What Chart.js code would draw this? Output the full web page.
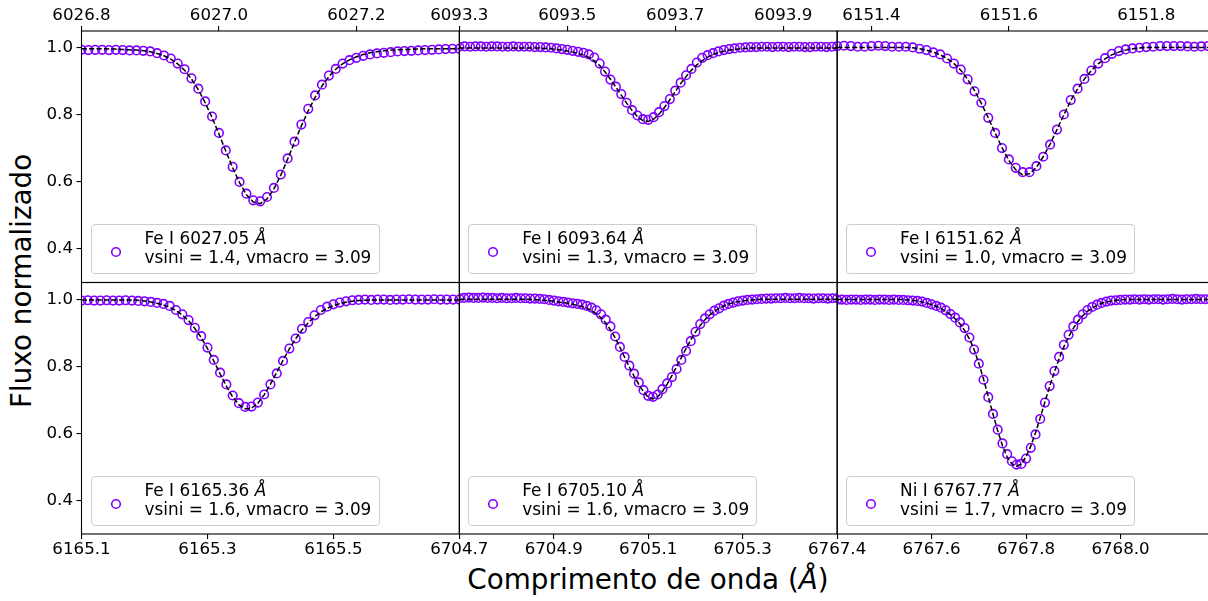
<!DOCTYPE html>
<html><head><meta charset="utf-8">
<script src="https://cdn.jsdelivr.net/npm/chart.js@4.4.0/dist/chart.umd.min.js"></script>
<style>
html,body{margin:0;padding:0;background:#fff;overflow:hidden;width:1208px;height:601px;}
#wrap{position:relative;width:1208px;height:601px;overflow:hidden;background:#fff;font-family:'DejaVu Sans',sans-serif;color:#000;}
canvas.p{position:absolute;left:0;top:0;}
.leg{position:absolute;box-sizing:border-box;width:289px;height:50px;border:1px solid #cccccc;border-radius:4px;background:rgba(255,255,255,0.8);}
.leg svg{position:absolute;left:16px;top:19px;}
.leg .t{position:absolute;left:53px;top:4px;font-size:16.9px;line-height:19.4px;white-space:nowrap;}
#xt{position:absolute;left:348px;width:600px;top:566px;text-align:center;font-size:27.8px;line-height:27.8px;white-space:nowrap;}
#yt{position:absolute;left:-178px;top:267px;width:400px;height:27.8px;text-align:center;font-size:27.8px;line-height:27.8px;white-space:nowrap;transform:rotate(-90deg);}
</style>
</head><body>
<div id="wrap">
<div id="xt">Comprimento de onda (<i>Å</i>)</div>
<div id="yt">Fluxo normalizado</div>
</div>
<script>
// ---------------- data ----------------
const wl1 = [6026.80,6026.81,6026.82,6026.83,6026.84,6026.85,6026.86,6026.87,6026.88,6026.89,
6026.90,6026.91,6026.92,6026.93,6026.94,6026.95,6026.96,6026.97,6026.98,6026.99,
6027.00,6027.01,6027.02,6027.03,6027.04,6027.05,6027.06,6027.07,6027.08,6027.09,
6027.10,6027.11,6027.12,6027.13,6027.14,6027.15,6027.16,6027.17,6027.18,6027.19,
6027.20,6027.21,6027.22,6027.23,6027.24,6027.25,6027.26,6027.27,6027.28,6027.29,
6027.30,6027.31,6027.32,6027.33,6027.34,6027.35];
const obs1 = [0.994,0.993,0.994,0.994,0.993,0.994,0.993,0.992,0.992,0.991,
0.989,0.984,0.977,0.968,0.953,0.936,0.909,0.878,0.840,0.795,
0.746,0.694,0.645,0.600,0.565,0.545,0.542,0.555,0.582,0.622,
0.670,0.720,0.771,0.818,0.858,0.890,0.917,0.937,0.953,0.963,
0.970,0.976,0.980,0.983,0.985,0.987,0.989,0.990,0.991,0.992,
0.993,0.994,0.995,0.996,0.997,0.997];
const fit1 = [0.997,0.997,0.997,0.997,0.996,0.996,0.995,0.994,0.993,0.991,
0.988,0.983,0.976,0.966,0.952,0.933,0.907,0.875,0.836,0.792,
0.743,0.692,0.642,0.598,0.562,0.540,0.535,0.549,0.579,0.620,
0.668,0.718,0.767,0.812,0.852,0.886,0.914,0.936,0.952,0.964,
0.973,0.980,0.985,0.988,0.991,0.993,0.994,0.995,0.996,0.996,
0.997,0.997,0.997,0.997,0.997,0.997];

const wl2 = [6093.30,6093.31,6093.32,6093.33,6093.34,6093.35,6093.36,6093.37,6093.38,6093.39,
6093.40,6093.41,6093.42,6093.43,6093.44,6093.45,6093.46,6093.47,6093.48,6093.49,
6093.50,6093.51,6093.52,6093.53,6093.54,6093.55,6093.56,6093.57,6093.58,6093.59,
6093.60,6093.61,6093.62,6093.63,6093.64,6093.65,6093.66,6093.67,6093.68,6093.69,
6093.70,6093.71,6093.72,6093.73,6093.74,6093.75,6093.76,6093.77,6093.78,6093.79,
6093.80,6093.81,6093.82,6093.83,6093.84,6093.85,6093.86,6093.87,6093.88,6093.89,
6093.90,6093.91,6093.92,6093.93,6093.94,6093.95,6093.96,6093.97,6093.98,6093.99,
6094.00];
const obs2 = [1.003,1.004,1.003,1.004,1.004,1.003,1.004,1.004,1.003,1.003,
1.004,1.003,1.003,1.003,1.002,1.002,1.001,1.000,0.998,0.996,
0.994,0.991,0.988,0.985,0.980,0.971,0.953,0.929,0.905,0.884,
0.862,0.836,0.814,0.798,0.787,0.785,0.793,0.808,0.826,0.847,
0.872,0.896,0.918,0.937,0.956,0.970,0.978,0.984,0.989,0.993,
0.996,0.998,1.000,1.001,1.002,1.002,1.003,1.003,1.002,1.003,
1.003,1.002,1.003,1.003,1.002,1.002,1.003,1.003,1.002,1.003,
1.004];
const fit2 = [0.999,0.999,0.999,0.999,0.999,0.999,0.999,0.999,0.999,0.999,
0.999,0.999,0.999,0.999,0.999,0.999,0.998,0.997,0.995,0.993,
0.990,0.987,0.983,0.978,0.971,0.961,0.947,0.928,0.906,0.883,
0.859,0.835,0.813,0.795,0.783,0.780,0.787,0.802,0.822,0.845,
0.869,0.893,0.914,0.933,0.949,0.962,0.972,0.980,0.986,0.990,
0.993,0.995,0.997,0.998,0.999,0.999,0.999,0.999,0.999,0.999,
0.999,0.999,0.999,0.999,0.999,0.999,0.999,0.999,0.999,0.999,
0.999];

const wl3 = [6151.35,6151.36,6151.37,6151.38,6151.39,
6151.40,6151.41,6151.42,6151.43,6151.44,6151.45,6151.46,6151.47,6151.48,6151.49,
6151.50,6151.51,6151.52,6151.53,6151.54,6151.55,6151.56,6151.57,6151.58,6151.59,
6151.60,6151.61,6151.62,6151.63,6151.64,6151.65,6151.66,6151.67,6151.68,6151.69,
6151.70,6151.71,6151.72,6151.73,6151.74,6151.75,6151.76,6151.77,6151.78,6151.79,
6151.80,6151.81,6151.82,6151.83,6151.84,6151.85,6151.86,6151.87,6151.88,6151.89,
6151.90];
const obs3 = [1.005,1.006,1.005,1.003,1.003,1.005,1.006,1.005,1.003,1.003,
1.003,1.001,0.997,0.993,0.986,0.980,0.968,0.953,0.935,0.906,
0.870,0.836,0.791,0.746,0.701,0.667,0.642,0.629,0.629,0.647,
0.675,0.711,0.756,0.801,0.844,0.878,0.907,0.932,0.953,0.969,
0.982,0.990,0.995,0.998,1.000,1.002,1.003,1.005,1.005,1.005,
1.005,1.004,1.003,1.004,1.005,1.005];
const fit3 = [1.001,1.001,1.001,1.001,1.001,1.001,1.001,1.001,1.001,1.001,
1.001,1.000,0.997,0.993,0.987,0.979,0.968,0.953,0.933,0.906,
0.872,0.834,0.791,0.746,0.702,0.664,0.636,0.621,0.624,0.643,
0.675,0.713,0.756,0.800,0.842,0.877,0.907,0.932,0.952,0.967,
0.979,0.987,0.993,0.997,0.999,1.001,1.001,1.001,1.001,1.001,
1.001,1.001,1.001,1.001,1.001,1.001];

const wl4 = [6165.10,6165.11,6165.12,6165.13,6165.14,6165.15,6165.16,6165.17,6165.18,6165.19,
6165.20,6165.21,6165.22,6165.23,6165.24,6165.25,6165.26,6165.27,6165.28,6165.29,
6165.30,6165.31,6165.32,6165.33,6165.34,6165.35,6165.36,6165.37,6165.38,6165.39,
6165.40,6165.41,6165.42,6165.43,6165.44,6165.45,6165.46,6165.47,6165.48,6165.49,
6165.50,6165.51,6165.52,6165.53,6165.54,6165.55,6165.56,6165.57,6165.58,6165.59,
6165.60,6165.61,6165.62,6165.63,6165.64,6165.65,6165.66,6165.67,6165.68,6165.69,
6165.70];
const obs4 = [0.996,0.997,0.996,0.996,0.997,0.996,0.996,0.997,0.996,0.995,
0.994,0.992,0.989,0.986,0.980,0.968,0.955,0.938,0.915,0.890,
0.856,0.819,0.781,0.746,0.713,0.690,0.679,0.680,0.692,0.716,
0.746,0.779,0.816,0.853,0.883,0.912,0.932,0.952,0.968,0.978,
0.985,0.990,0.994,0.997,0.998,0.999,0.998,0.999,0.999,0.998,
0.999,0.999,1.000,0.999,0.999,0.999,1.000,0.999,0.999,0.999,
0.999];
const fit4 = [0.998,0.998,0.998,0.998,0.998,0.998,0.998,0.998,0.998,0.997,
0.995,0.992,0.988,0.983,0.976,0.966,0.953,0.936,0.913,0.886,
0.853,0.816,0.778,0.741,0.709,0.685,0.673,0.675,0.690,0.715,
0.747,0.782,0.818,0.852,0.882,0.908,0.930,0.948,0.962,0.973,
0.981,0.987,0.991,0.994,0.996,0.997,0.998,0.998,0.998,0.998,
0.998,0.998,0.998,0.998,0.998,0.998,0.998,0.998,0.998,0.998,
0.998];

const wl5 = [6704.70,6704.71,6704.72,6704.73,6704.74,6704.75,6704.76,6704.77,6704.78,6704.79,
6704.80,6704.81,6704.82,6704.83,6704.84,6704.85,6704.86,6704.87,6704.88,6704.89,
6704.90,6704.91,6704.92,6704.93,6704.94,6704.95,6704.96,6704.97,6704.98,6704.99,
6705.00,6705.01,6705.02,6705.03,6705.04,6705.05,6705.06,6705.07,6705.08,6705.09,
6705.10,6705.11,6705.12,6705.13,6705.14,6705.15,6705.16,6705.17,6705.18,6705.19,
6705.20,6705.21,6705.22,6705.23,6705.24,6705.25,6705.26,6705.27,6705.28,6705.29,
6705.30,6705.31,6705.32,6705.33,6705.34,6705.35,6705.36,6705.37,6705.38,6705.39,
6705.40,6705.41,6705.42,6705.43,6705.44,6705.45,6705.46,6705.47,6705.48,6705.49,
6705.50];
const obs5 = [1.003,1.004,1.005,1.004,1.004,1.005,1.004,1.004,1.003,1.004,
1.003,1.003,1.004,1.003,1.003,1.002,1.002,1.001,1.000,0.998,
0.996,0.994,0.992,0.990,0.988,0.986,0.984,0.980,0.975,0.967,
0.955,0.939,0.919,0.889,0.858,0.828,0.802,0.778,0.752,0.729,
0.712,0.709,0.716,0.732,0.749,0.768,0.792,0.819,0.846,0.875,
0.903,0.926,0.943,0.955,0.966,0.973,0.981,0.986,0.990,0.994,
0.996,0.998,0.999,1.000,1.001,1.002,1.002,1.003,1.003,1.004,
1.003,1.003,1.004,1.003,1.003,1.002,1.003,1.003,1.002,1.003,
1.003];
const fit5 = [1.000,1.000,1.000,1.000,1.000,1.000,1.000,1.000,1.000,1.000,
1.000,1.000,1.000,1.000,1.000,1.000,0.999,0.998,0.997,0.996,
0.994,0.992,0.990,0.988,0.985,0.982,0.978,0.973,0.966,0.957,
0.945,0.929,0.909,0.885,0.857,0.827,0.798,0.771,0.746,0.724,
0.708,0.703,0.709,0.725,0.747,0.772,0.799,0.826,0.853,0.879,
0.902,0.922,0.939,0.953,0.964,0.973,0.980,0.986,0.990,0.993,
0.995,0.997,0.998,0.999,1.000,1.000,1.000,1.000,1.000,1.000,
1.000,1.000,1.000,1.000,1.000,1.000,1.000,1.000,1.000,1.000,
1.000];

const wl6 = [6767.40,6767.41,6767.42,6767.43,6767.44,6767.45,6767.46,6767.47,6767.48,6767.49,
6767.50,6767.51,6767.52,6767.53,6767.54,6767.55,6767.56,6767.57,6767.58,6767.59,
6767.60,6767.61,6767.62,6767.63,6767.64,6767.65,6767.66,6767.67,6767.68,6767.69,
6767.70,6767.71,6767.72,6767.73,6767.74,6767.75,6767.76,6767.77,6767.78,6767.79,
6767.80,6767.81,6767.82,6767.83,6767.84,6767.85,6767.86,6767.87,6767.88,6767.89,
6767.90,6767.91,6767.92,6767.93,6767.94,6767.95,6767.96,6767.97,6767.98,6767.99,
6768.00,6768.01,6768.02,6768.03,6768.04,6768.05,6768.06,6768.07,6768.08,6768.09,
6768.10,6768.11,6768.12,6768.13,6768.14,6768.15,6768.16,6768.17,6768.18,6768.19,
6768.20];
const obs6 = [0.998,0.999,0.998,0.999,0.999,0.998,0.999,0.999,0.998,0.999,
0.999,0.998,0.999,0.998,0.998,0.997,0.996,0.995,0.993,0.989,
0.985,0.980,0.975,0.967,0.956,0.945,0.931,0.914,0.886,0.850,
0.808,0.760,0.708,0.658,0.611,0.570,0.538,0.517,0.507,0.509,
0.525,0.557,0.597,0.643,0.692,0.741,0.786,0.828,0.864,0.894,
0.919,0.939,0.955,0.968,0.977,0.984,0.989,0.993,0.996,0.997,
0.998,0.999,0.999,1.000,0.999,1.000,0.999,1.000,1.000,0.999,
1.000,1.001,1.000,0.999,1.000,1.000,1.001,1.000,1.000,1.000,
1.000];
const fit6 = [0.999,0.999,0.999,0.999,0.999,0.999,0.999,0.999,0.999,0.999,
0.999,0.999,0.999,0.999,0.999,0.998,0.997,0.995,0.992,0.988,
0.984,0.979,0.972,0.964,0.954,0.942,0.927,0.907,0.882,0.850,
0.809,0.762,0.710,0.658,0.608,0.564,0.530,0.509,0.502,0.509,
0.530,0.562,0.602,0.647,0.694,0.740,0.783,0.823,0.858,0.888,
0.913,0.934,0.951,0.964,0.974,0.982,0.988,0.992,0.995,0.997,
0.998,0.999,0.999,0.999,0.999,0.999,0.999,0.999,0.999,0.999,
0.999,0.999,0.999,0.999,0.999,0.999,0.999,0.999,0.999,0.999,
0.999];

const xRange1 = [6026.80, 6027.35], xTicks1 = [6026.8, 6027.0, 6027.2];
const xRange2 = [6093.30, 6094.00], xTicks2 = [6093.3, 6093.5, 6093.7, 6093.9];
const xRange3 = [6151.35, 6151.90], xTicks3 = [6151.4, 6151.6, 6151.8];
const xRange4 = [6165.10, 6165.70], xTicks4 = [6165.1, 6165.3, 6165.5];
const xRange5 = [6704.70, 6705.50], xTicks5 = [6704.7, 6704.9, 6705.1, 6705.3];
const xRange6 = [6767.40, 6768.20], xTicks6 = [6767.4, 6767.6, 6767.8, 6768.0];
const yRange = [0.30, 1.05];
const yTicks = [0.4, 0.6, 0.8, 1.0];

const lineNames = ['Fe I 6027.05', 'Fe I 6093.64', 'Fe I 6151.62', 'Fe I 6165.36', 'Fe I 6705.10', 'Ni I 6767.77'];
const vsiniVals = ['1.4', '1.3', '1.0', '1.6', '1.6', '1.7'];
const vmacroVal = '3.09';

// ---------------- layout / style ----------------
const W = 1216, H = 601;
const colL = [81.5, 459.3, 837.1], colW = 377.9;
const rowT = [31, 282.5], rowB = [282.5, 534];
const PURPLE = '#7f00ff';

Chart.defaults.font.family = "'DejaVu Sans', sans-serif";
Chart.defaults.color = '#000';

const panels = [
  {wl: wl1, obs: obs1, fit: fit1, xr: xRange1, xt: xTicks1, col: 0, row: 0},
  {wl: wl2, obs: obs2, fit: fit2, xr: xRange2, xt: xTicks2, col: 1, row: 0},
  {wl: wl3, obs: obs3, fit: fit3, xr: xRange3, xt: xTicks3, col: 2, row: 0},
  {wl: wl4, obs: obs4, fit: fit4, xr: xRange4, xt: xTicks4, col: 0, row: 1},
  {wl: wl5, obs: obs5, fit: fit5, xr: xRange5, xt: xTicks5, col: 1, row: 1},
  {wl: wl6, obs: obs6, fit: fit6, xr: xRange6, xt: xTicks6, col: 2, row: 1}
];

const framePlugin = {
  id: 'frame',
  afterDatasetsDraw(chart) {
    const {ctx, chartArea: a} = chart;
    ctx.save();
    ctx.strokeStyle = '#000';
    ctx.lineWidth = 1.1;
    ctx.strokeRect(a.left, a.top, a.right - a.left, a.bottom - a.top);
    ctx.restore();
  }
};

const wrap = document.getElementById('wrap');

panels.forEach((p, k) => {
  const L = colL[p.col], R = colL[p.col] + colW, T = rowT[p.row], B = rowB[p.row];
  const top = p.row === 0;
  const showY = p.col === 0;
  const cv = document.createElement('canvas');
  cv.className = 'p'; cv.width = W; cv.height = H;
  wrap.appendChild(cv);

  new Chart(cv, {
    type: 'line',
    data: {
      datasets: [
        { label: 'fit', data: p.wl.map((x, i) => ({x: x, y: p.fit[i]})),
          borderColor: '#000', borderWidth: 1.5, borderDash: [5.2, 2.3],
          pointRadius: 0, fill: false, tension: 0, clip: 0 },
        { label: 'obs', data: p.wl.map((x, i) => ({x: x, y: p.obs[i]})),
          showLine: false, pointRadius: 4.3, pointBorderWidth: 1.6,
          pointBorderColor: PURPLE, pointBackgroundColor: 'rgba(0,0,0,0)',
          borderColor: PURPLE, backgroundColor: 'rgba(0,0,0,0)', clip: 0 }
      ]
    },
    options: {
      responsive: false, animation: false, devicePixelRatio: 1, events: [],
      layout: { autoPadding: false,
        padding: { left: showY ? 0 : L, right: W - R, top: top ? 0 : T, bottom: top ? H - B : 0 } },
      plugins: { legend: { display: false }, tooltip: { enabled: false }, title: { display: false } },
      scales: {
        x: {
          type: 'linear', position: top ? 'top' : 'bottom', min: p.xr[0], max: p.xr[1],
          afterBuildTicks: s => { s.ticks = p.xt.map(v => ({value: v})); },
          afterFit: s => { s.height = top ? T : H - B; },
          ticks: { autoSkip: false, maxRotation: 0, minRotation: 0, padding: top ? 0 : 1,
                   color: '#000', font: { size: 16.67 }, callback: v => Number(v).toFixed(1) },
          grid: { display: true, drawOnChartArea: false, drawTicks: true, tickLength: 5,
                  color: '#000', lineWidth: 1.1 },
          border: { display: false }
        },
        y: {
          type: 'linear', position: 'left', display: showY, min: yRange[0], max: yRange[1],
          afterBuildTicks: s => { s.ticks = yTicks.map(v => ({value: v})); },
          afterFit: s => { s.width = showY ? L : 0; },
          ticks: { autoSkip: false, padding: 3.5, color: '#000', font: { size: 16.67 },
                   callback: v => Number(v).toFixed(1) },
          grid: { display: true, drawOnChartArea: false, drawTicks: true, tickLength: 5,
                  color: '#000', lineWidth: 1.1 },
          border: { display: false }
        }
      }
    },
    plugins: [framePlugin]
  });

  const lg = document.createElement('div');
  lg.className = 'leg';
  lg.style.left = (L + 9) + 'px';
  lg.style.top = (B - 8.5 - 50) + 'px';
  lg.innerHTML = '<svg width="16" height="16"><circle cx="8" cy="8" r="4.3" fill="none" stroke="' + PURPLE + '" stroke-width="1.6"/></svg>' +
    '<div class="t">' + lineNames[k] + ' <i>Å</i><br>vsini = ' + vsiniVals[k] + ', vmacro = ' + vmacroVal + '</div>';
  wrap.appendChild(lg);
});
</script>
</body></html>
